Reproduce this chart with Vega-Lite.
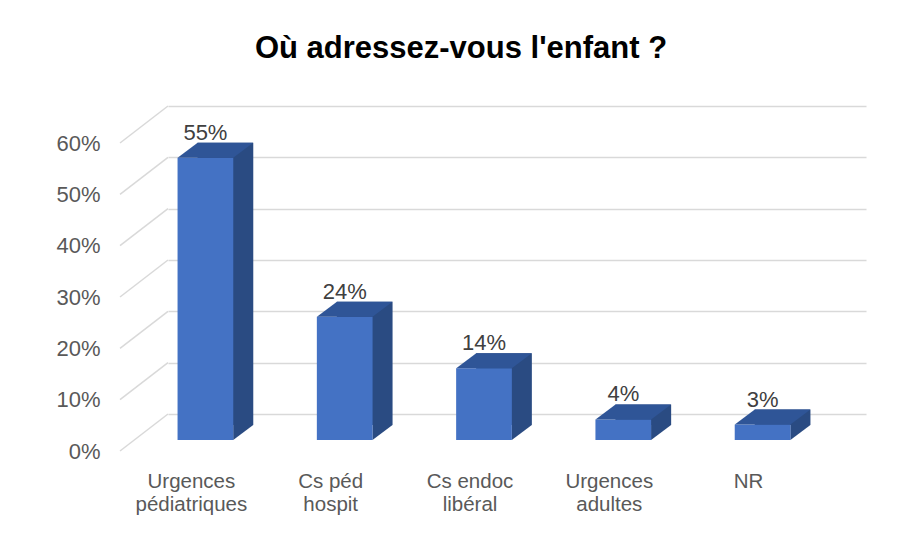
{
  "$schema": "https://vega.github.io/schema/vega-lite/v6.json",
  "width": 698,
  "height": 308,
  "autosize": {"type": "none"},
  "padding": {"left": 168, "top": 132, "right": 47, "bottom": 95},
  "background": "white",
  "title": {
    "text": "Où adressez-vous l'enfant ?",
    "fontSize": 31,
    "fontWeight": "bold",
    "font": "Liberation Sans",
    "color": "#000000",
    "anchor": "middle",
    "dx": -56,
    "offset": 40
  },
  "data": {
    "values": [
      {"lieu": "Urgences pédiatriques", "pct": 0.55},
      {"lieu": "Cs péd hospit", "pct": 0.24},
      {"lieu": "Cs endoc libéral", "pct": 0.14},
      {"lieu": "Urgences adultes", "pct": 0.04},
      {"lieu": "NR", "pct": 0.03}
    ]
  },
  "encoding": {
    "x": {
      "field": "lieu",
      "type": "nominal",
      "sort": null,
      "scale": {"paddingInner": 0.6, "paddingOuter": 0.3055},
      "axis": {
        "title": null,
        "domain": false,
        "ticks": false,
        "tickSize": 0,
        "labelAngle": 0,
        "labelPadding": 31,
        "labelOffset": -47,
        "labelFontSize": 20.5,
        "labelFont": "Liberation Sans",
        "labelColor": "#595959",
        "labelLineHeight": 23,
        "labelLimit": 300,
        "labelExpr": "datum.label == 'Cs péd hospit' ? ['Cs péd', 'hospit'] : datum.label == 'Cs endoc libéral' ? ['Cs endoc', 'libéral'] : split(datum.label, ' ')"
      }
    },
    "y": {
      "field": "pct",
      "type": "quantitative",
      "scale": {"domain": [0, 0.6], "nice": false},
      "axis": {
        "title": null,
        "values": [0, 0.1, 0.2, 0.3, 0.4, 0.5, 0.6],
        "format": ".0%",
        "domain": false,
        "ticks": false,
        "tickSize": 0,
        "grid": true,
        "gridColor": "#D9D9D9",
        "gridWidth": 1.5,
        "tickOffset": -26,
        "labelOffset": 37,
        "labelPadding": 68,
        "labelFontSize": 22,
        "labelFont": "Liberation Sans",
        "labelColor": "#595959"
      }
    }
  },
  "layer": [
    {
      "data": {"values": [{"t": 0}, {"t": 0.1}, {"t": 0.2}, {"t": 0.3}, {"t": 0.4}, {"t": 0.5}, {"t": 0.6}]},
      "mark": {"type": "rule", "color": "#D9D9D9", "strokeWidth": 1.5, "yOffset": 11, "y2Offset": -26},
      "encoding": {
        "x": {"value": -48},
        "x2": {"value": 0},
        "y": {"field": "t", "type": "quantitative"},
        "y2": {"field": "t"}
      }
    },
    {
      "mark": {"type": "bar", "color": "#2A4B82", "xOffset": -13, "yOffset": -15, "y2Offset": -15}
    },
    {
      "mark": {"type": "point", "shape": "M27.8,0L27.8,-15L47.8,-15Z", "size": 4, "filled": true, "opacity": 1, "color": "#2A4B82", "xOffset": -33},
      "encoding": {"y": {"datum": 0, "type": "quantitative"}}
    },
    {
      "mark": {"type": "bar", "color": "#4472C4", "xOffset": -33}
    },
    {
      "mark": {"type": "point", "shape": "M-27.8,0L27.8,0L47.8,-15L-7.8,-15Z", "size": 4, "filled": true, "opacity": 1, "color": "#2F5597", "xOffset": -33}
    },
    {
      "mark": {"type": "text", "dy": -18, "xOffset": -33, "baseline": "alphabetic", "fontSize": 22, "font": "Liberation Sans", "color": "#404040"},
      "encoding": {"text": {"field": "pct", "type": "quantitative", "format": ".0%"}}
    }
  ],
  "config": {"view": {"stroke": null}}
}
